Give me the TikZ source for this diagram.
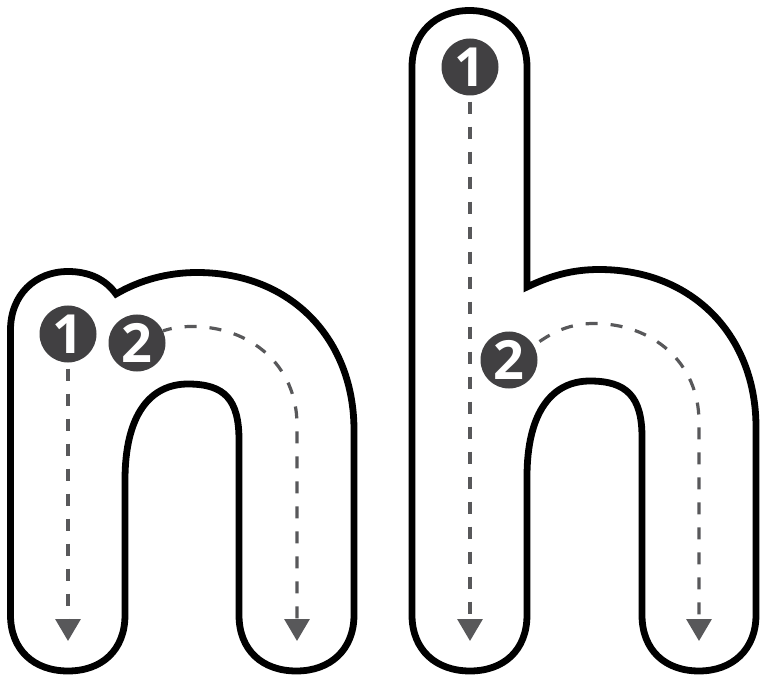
\documentclass[tikz,border=0pt]{standalone}
\usepackage{fontspec}
\setsansfont{Open Sans}
\usetikzlibrary{arrows.meta}
\definecolor{badge}{HTML}{414042}
\definecolor{guide}{HTML}{58585A}
\tikzset{
  outline/.style={draw=black,line width=6.8pt,line join=miter,miter limit=10},
  badgenode/.style={circle,fill=badge,minimum size=57pt,inner sep=0pt,text=white,font=\sffamily\fontsize{54}{54}\selectfont\bfseries},
  guideline/.style={draw=guide,line width=3.2pt,dash pattern=on 12pt off 13pt,-{Triangle[length=22pt,width=25pt,fill=guide]}}
}
\begin{document}
\begin{tikzpicture}[x=1pt,y=-1pt]
\useasboundingbox (0,0) rectangle (761,679);
% letter n
\draw[outline] (10.5,330) .. controls (10.5,295) and (35,271.5) .. (68,271.5)
  .. controls (90,271.5) and (106,280) .. (116,294)
  .. controls (140,280) and (168,272.5) .. (197,272.5)
  .. controls (292,272.5) and (354,340) .. (354,430)
  -- (354,615) .. controls (354,650) and (330,671) .. (296.5,671)
  .. controls (262,671) and (239,650) .. (239,615)
  -- (239,440) .. controls (239,400) and (225,384) .. (188,384)
  .. controls (150,384) and (125,415) .. (125,480)
  -- (125,615) .. controls (125,650) and (102,671) .. (68,671)
  .. controls (34,671) and (10.5,650) .. (10.5,615) -- cycle;
% letter h
\draw[outline] (412,67) .. controls (412,33) and (436,10.5) .. (469.5,10.5)
  .. controls (503,10.5) and (527,33) .. (527,67)
  -- (527,287)
  .. controls (550,276) and (572,269.5) .. (599,269.5)
  .. controls (694,269.5) and (756,337) .. (756,427)
  -- (756,615) .. controls (756,650) and (732,671) .. (699,671)
  .. controls (665,671) and (642,650) .. (642,615)
  -- (642,437) .. controls (642,397) and (627,381) .. (590,381)
  .. controls (552,381) and (527,412) .. (527,477)
  -- (527,615) .. controls (527,650) and (504,671) .. (470,671)
  .. controls (436,671) and (412,650) .. (412,615) -- cycle;
% badges
\node[badgenode] (na) at (68,334) {1};
\node[badgenode] (nb) at (137,343) {2};
\node[badgenode] (ha) at (470,67) {1};
\node[badgenode] (hb) at (509,360) {2};
% guide ends
\coordinate (nae) at (68,641);
\coordinate (nbe) at (297,641);
\coordinate (hae) at (470,641);
\coordinate (hbe) at (699,641);
% guides
\draw[guideline,dash phase=19pt] (na.south) -- (nae);
\draw[guideline,dash phase=19pt] (ha.south) -- (hae);
\draw[guideline,dash phase=3pt] (nb.25) .. controls (172,328) and (180,326.5) .. (192,326.5)
  .. controls (250,326.5) and (297,365) .. (297,425) -- (nbe);
\draw[guideline,dash phase=18pt] (hb.30) .. controls (552,332) and (570,323.5) .. (594,323.5)
  .. controls (652,323.5) and (699,362) .. (699,422) -- (hbe);
\end{tikzpicture}
\end{document}
